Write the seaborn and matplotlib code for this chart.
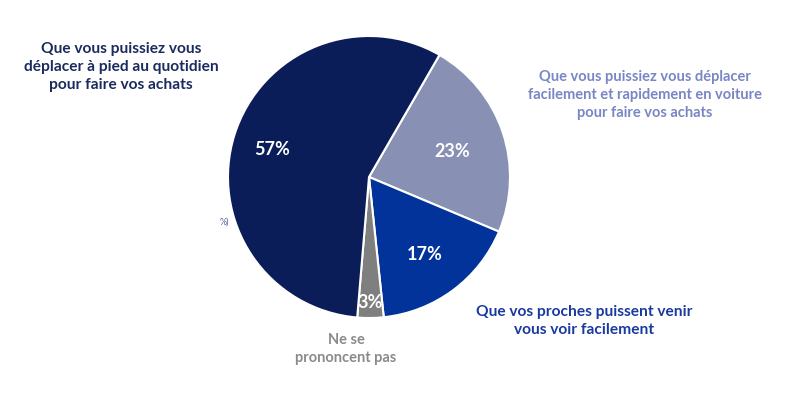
import numpy as np
import matplotlib
matplotlib.use("Agg")
import matplotlib.pyplot as plt
import seaborn as sns

# ── data ────────────────────────────────────────────────────────────────
labels = [
    "Que vous puissiez vous déplacer\nfacilement et rapidement en voiture\npour faire vos achats",
    "Que vos proches puissent venir\nvous voir facilement",
    "Ne se\nprononcent pas",
    "Que vous puissiez vous\ndéplacer à pied au quotidien\npour faire vos achats",
]
values = [23, 17, 3, 57]
slice_colors = ["#8891B3", "#02339A", "#7F7F7F", "#0A1D59"]
label_colors = ["#7886C4", "#1A3AA0", "#8A8A8A", "#1C2B5E"]

sns.set_theme(style="white")
plt.rcParams["font.family"] = ["Lato", "DejaVu Sans"]

W, H = 800, 396
fig = plt.figure(figsize=(W / 100, H / 100), dpi=100)
ax = fig.add_axes([0, 0, 1, 1])

wedges, _ = ax.pie(values, colors=slice_colors, startangle=60, counterclock=False,
                   wedgeprops=dict(edgecolor="white", linewidth=1.5))

# pie centre / radius in pixels (limits set after pie, which resets them)
cx, cy, R = 369, 177, 141
ax.set_xlim(-cx / R, (W - cx) / R)
ax.set_ylim(-(H - cy) / R, cy / R)
ax.set_aspect("equal")
ax.axis("off")

# percentages inside each wedge
pct_r = [0.62, 0.66, 0.87, 0.72]
for w, v, r in zip(wedges, values, pct_r):
    mid = np.deg2rad((w.theta1 + w.theta2) / 2)
    ax.text(r * np.cos(mid), r * np.sin(mid) - 0.02, f"{v}%", color="white",
            fontsize=13, fontweight="bold", ha="center", va="center")


def px(x, y):
    return ((x - cx) / R, (cy - y) / R)


# outside labels
label_pos = [(645, 95), (584, 321), (346, 349), (121, 67)]
label_size = [10.5, 11.2, 10.5, 11.2]
for lab, col, (x, y), fs in zip(labels, label_colors, label_pos, label_size):
    ax.text(*px(x, y), lab, color=col, fontsize=fs, fontweight="bold",
            ha="center", va="center", linespacing=1.35)

ax.text(*px(224, 222), "%)", color="#5A6490", fontsize=6.5, ha="center", va="center")

fig.savefig("out.png", dpi=100)
